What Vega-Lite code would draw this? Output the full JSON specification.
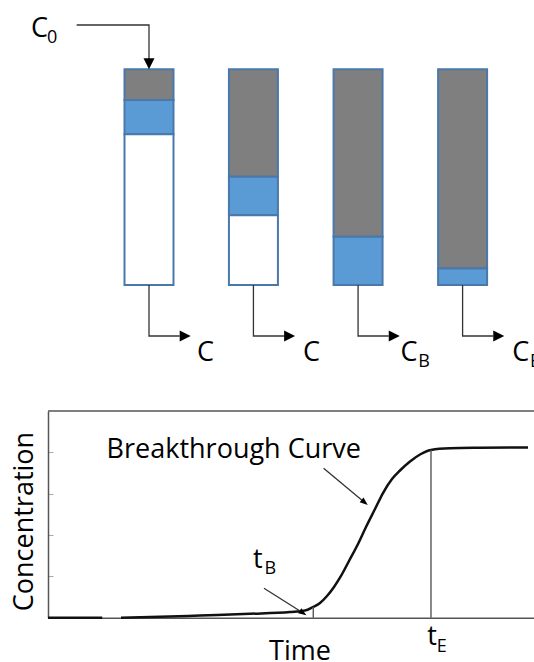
{
  "$schema": "https://vega.github.io/schema/vega-lite/v6.json",
  "width": 534,
  "height": 662,
  "autosize": {"type": "none"},
  "padding": 0,
  "background": "white",
  "config": {"view": {"stroke": null}, "font": "Open Sans", "text": {"font": "Open Sans"}},
  "datasets": {
    "segments": [
      {"col": 1, "top": 0, "bot": 0.142, "kind": "gray"},
      {"col": 1, "top": 0.142, "bot": 0.301, "kind": "blue"},
      {"col": 1, "top": 0.301, "bot": 1, "kind": "white"},
      {"col": 1.999, "top": 0, "bot": 0.498, "kind": "gray"},
      {"col": 1.999, "top": 0.498, "bot": 0.677, "kind": "blue"},
      {"col": 1.999, "top": 0.677, "bot": 1, "kind": "white"},
      {"col": 3, "top": 0, "bot": 0.776, "kind": "gray"},
      {"col": 3, "top": 0.776, "bot": 1, "kind": "blue"},
      {"col": 4, "top": 0, "bot": 0.924, "kind": "gray"},
      {"col": 4, "top": 0.924, "bot": 1, "kind": "blue"}
    ],
    "flowLines": [
      {"id": "feed", "i": 0, "x": 0.308, "y": -0.2054},
      {"id": "feed", "i": 1, "x": 1, "y": -0.2054},
      {"id": "feed", "i": 2, "x": 1, "y": -0.0464},
      {"id": "out1", "i": 0, "x": 1, "y": 1},
      {"id": "out1", "i": 1, "x": 1, "y": 1.2365},
      {"id": "out1", "i": 2, "x": 1.293, "y": 1.2365},
      {"id": "out2", "i": 0, "x": 1.999, "y": 1},
      {"id": "out2", "i": 1, "x": 1.999, "y": 1.2365},
      {"id": "out2", "i": 2, "x": 2.292, "y": 1.2365},
      {"id": "out3", "i": 0, "x": 3, "y": 1},
      {"id": "out3", "i": 1, "x": 3, "y": 1.2365},
      {"id": "out3", "i": 2, "x": 3.293, "y": 1.2365},
      {"id": "out4", "i": 0, "x": 4, "y": 1},
      {"id": "out4", "i": 1, "x": 4, "y": 1.2365},
      {"id": "out4", "i": 2, "x": 4.293, "y": 1.2365}
    ],
    "headsDown": [{"x": 1, "y": -0.0255}],
    "headsRight": [
      {"x": 1.346, "y": 1.2365},
      {"x": 2.345, "y": 1.2365},
      {"x": 3.346, "y": 1.2365},
      {"x": 4.346, "y": 1.2365}
    ],
    "bigLabels": [
      {"label": "C", "x": -0.129, "y": -0.1511},
      {"label": "C", "x": 1.459, "y": 1.352},
      {"label": "C", "x": 2.474, "y": 1.352},
      {"label": "C", "x": 3.407, "y": 1.352},
      {"label": "C", "x": 4.474, "y": 1.352}
    ],
    "subLabels": [
      {"label": "0", "x": 0.024, "y": -0.1205},
      {"label": "B", "x": 3.575, "y": 1.379},
      {"label": "E", "x": 4.645, "y": 1.379}
    ],
    "curve": [
      {"seg": "a", "i": 0, "t": 0, "c": 0},
      {"seg": "a", "i": 1, "t": 10.78, "c": 0},
      {"seg": "b", "i": 0, "t": 14.51, "c": 0},
      {"seg": "b", "i": 1, "t": 22.27, "c": 0.02},
      {"seg": "b", "i": 2, "t": 30.22, "c": 0.053},
      {"seg": "b", "i": 3, "t": 40.16, "c": 0.094},
      {"seg": "b", "i": 4, "t": 48.11, "c": 0.138},
      {"seg": "b", "i": 5, "t": 51.09, "c": 0.174},
      {"seg": "b", "i": 6, "t": 52.68, "c": 0.259},
      {"seg": "b", "i": 7, "t": 54.08, "c": 0.356},
      {"seg": "b", "i": 8, "t": 55.47, "c": 0.525},
      {"seg": "b", "i": 9, "t": 56.86, "c": 0.743},
      {"seg": "b", "i": 10, "t": 58.25, "c": 1.009},
      {"seg": "b", "i": 11, "t": 59.84, "c": 1.371},
      {"seg": "b", "i": 12, "t": 61.63, "c": 1.783},
      {"seg": "b", "i": 13, "t": 63.22, "c": 2.194},
      {"seg": "b", "i": 14, "t": 65.01, "c": 2.629},
      {"seg": "b", "i": 15, "t": 66.6, "c": 3.016},
      {"seg": "b", "i": 16, "t": 68.39, "c": 3.355},
      {"seg": "b", "i": 17, "t": 69.98, "c": 3.561},
      {"seg": "b", "i": 18, "t": 71.97, "c": 3.778},
      {"seg": "b", "i": 19, "t": 73.96, "c": 3.948},
      {"seg": "b", "i": 20, "t": 76.14, "c": 4.057},
      {"seg": "b", "i": 21, "t": 79.92, "c": 4.098},
      {"seg": "b", "i": 22, "t": 85.88, "c": 4.11},
      {"seg": "b", "i": 23, "t": 95.43, "c": 4.117}
    ]
  },
  "layer": [
    {
      "layer": [
        {
          "data": {"name": "segments"},
          "mark": {"type": "bar", "width": 49, "stroke": "#4a78ab", "strokeWidth": 2},
          "encoding": {
            "x": {"field": "col", "type": "quantitative", "scale": {"domain": [1, 4], "range": [149, 462.6], "nice": false, "zero": false, "padding": 0}, "axis": null},
            "y": {"field": "top", "type": "quantitative", "scale": {"domain": [0, 1], "range": [69.3, 285], "nice": false, "zero": false, "padding": 0}, "axis": null},
            "y2": {"field": "bot"},
            "fill": {"field": "kind", "type": "nominal", "scale": {"domain": ["gray", "blue", "white"], "range": ["#7f7f7f", "#5b9bd5", "#ffffff"]}, "legend": null}
          }
        },
        {
          "data": {"name": "flowLines"},
          "mark": {"type": "line", "color": "#333333", "strokeWidth": 1.3},
          "encoding": {
            "x": {"field": "x", "type": "quantitative"},
            "y": {"field": "y", "type": "quantitative"},
            "detail": {"field": "id"},
            "order": {"field": "i", "type": "quantitative"}
          }
        },
        {
          "data": {"name": "headsDown"},
          "mark": {"type": "point", "shape": "M-1,-1L1,-1L0,1Z", "size": 121, "filled": true, "color": "#000000", "opacity": 1},
          "encoding": {
            "x": {"field": "x", "type": "quantitative"},
            "y": {"field": "y", "type": "quantitative"}
          }
        },
        {
          "data": {"name": "headsRight"},
          "mark": {"type": "point", "shape": "M-1,-1L1,0L-1,1Z", "size": 121, "filled": true, "color": "#000000", "opacity": 1},
          "encoding": {
            "x": {"field": "x", "type": "quantitative"},
            "y": {"field": "y", "type": "quantitative"}
          }
        },
        {
          "data": {"name": "bigLabels"},
          "mark": {"type": "text", "font": "Open Sans", "fontSize": 27, "align": "left", "baseline": "alphabetic", "color": "#000000"},
          "encoding": {
            "x": {"field": "x", "type": "quantitative"},
            "y": {"field": "y", "type": "quantitative"},
            "text": {"field": "label"}
          }
        },
        {
          "data": {"name": "subLabels"},
          "mark": {"type": "text", "font": "Open Sans", "fontSize": 18, "align": "left", "baseline": "alphabetic", "color": "#000000"},
          "encoding": {
            "x": {"field": "x", "type": "quantitative"},
            "y": {"field": "y", "type": "quantitative"},
            "text": {"field": "label"}
          }
        }
      ]
    },
    {
      "layer": [
        {
          "data": {"name": "curve"},
          "mark": {"type": "line", "color": "#111111", "strokeWidth": 2.5, "interpolate": "monotone"},
          "encoding": {
            "x": {"field": "t", "type": "quantitative", "title": "Time",
              "scale": {"domain": [0, 100], "range": [48, 551], "nice": false, "zero": false},
              "axis": {"orient": "bottom", "offset": -44.3, "ticks": false, "labels": false, "grid": false, "domainColor": "#555555", "domainWidth": 1.5,
                "title": "Time", "titleFont": "Open Sans", "titleFontSize": 27, "titleFontWeight": "normal", "titleColor": "#000000", "titleBaseline": "alphabetic", "titleY": 41.3}},
            "y": {"field": "c", "type": "quantitative", "title": "Concentration",
              "scale": {"domain": [0, 5], "range": [617.7, 411], "nice": false, "zero": false},
              "axis": {"orient": "left", "offset": -48, "values": [1, 2, 3, 4], "tickSize": -5, "tickColor": "#aaaaaa", "tickWidth": 1, "labels": false, "grid": false, "domainColor": "#555555", "domainWidth": 1.5,
                "title": "Concentration", "titleFont": "Open Sans", "titleFontSize": 27, "titleFontWeight": "normal", "titleColor": "#000000", "titleAngle": -90, "titleX": -24, "titleY": 521, "titleBaseline": "middle", "titleAlign": "center"}},
            "detail": {"field": "seg"},
            "order": {"field": "i", "type": "quantitative"}
          }
        },
        {
          "data": {"values": [{"t": 0, "t2": 100, "c": 5}]},
          "mark": {"type": "rule", "color": "#555555", "strokeWidth": 1.5},
          "encoding": {
            "x": {"field": "t", "type": "quantitative"},
            "x2": {"field": "t2"},
            "y": {"field": "c", "type": "quantitative"}
          }
        },
        {
          "data": {"values": [{"t": 76.14, "c": 0, "c2": 4.057}, {"t": 52.74, "c": 0, "c2": 0.259}]},
          "mark": {"type": "rule", "color": "#555555", "strokeWidth": 1.4},
          "encoding": {
            "x": {"field": "t", "type": "quantitative"},
            "y": {"field": "c", "type": "quantitative"},
            "y2": {"field": "c2"}
          }
        },
        {
          "data": {"values": [{"t": 54.79, "c": 3.614, "t2": 63.2, "c2": 2.76}, {"t": 42.94, "c": 0.711, "t2": 50.1, "c2": 0.162}]},
          "mark": {"type": "rule", "color": "#333333", "strokeWidth": 1.3},
          "encoding": {
            "x": {"field": "t", "type": "quantitative"},
            "y": {"field": "c", "type": "quantitative"},
            "x2": {"field": "t2"},
            "y2": {"field": "c2"}
          }
        },
        {
          "data": {"values": [{"t": 62.96, "c": 2.789}]},
          "mark": {"type": "point", "shape": "M-0.75,1L0.75,1L0,-1Z", "size": 64, "angle": 129.7, "filled": true, "color": "#000000", "opacity": 1},
          "encoding": {
            "x": {"field": "t", "type": "quantitative"},
            "y": {"field": "c", "type": "quantitative"}
          }
        },
        {
          "data": {"values": [{"t": 50.7, "c": 0.114}]},
          "mark": {"type": "point", "shape": "M-0.75,1L0.75,1L0,-1Z", "size": 64, "angle": 122.7, "filled": true, "color": "#000000", "opacity": 1},
          "encoding": {
            "x": {"field": "t", "type": "quantitative"},
            "y": {"field": "c", "type": "quantitative"}
          }
        },
        {
          "data": {"values": [
            {"label": "Breakthrough Curve", "t": 11.65, "c": 3.856},
            {"label": "t", "t": 40.76, "c": 1.195},
            {"label": "t", "t": 75.41, "c": -0.66}
          ]},
          "mark": {"type": "text", "font": "Open Sans", "fontSize": 27, "align": "left", "baseline": "alphabetic", "color": "#000000"},
          "encoding": {
            "x": {"field": "t", "type": "quantitative"},
            "y": {"field": "c", "type": "quantitative"},
            "text": {"field": "label"}
          }
        },
        {
          "data": {"values": [
            {"label": "B", "t": 43.04, "c": 1.057},
            {"label": "E", "t": 77.3, "c": -0.822}
          ]},
          "mark": {"type": "text", "font": "Open Sans", "fontSize": 18, "align": "left", "baseline": "alphabetic", "color": "#000000"},
          "encoding": {
            "x": {"field": "t", "type": "quantitative"},
            "y": {"field": "c", "type": "quantitative"},
            "text": {"field": "label"}
          }
        }
      ]
    }
  ],
  "resolve": {
    "scale": {"x": "independent", "y": "independent"},
    "axis": {"x": "independent", "y": "independent"}
  }
}
